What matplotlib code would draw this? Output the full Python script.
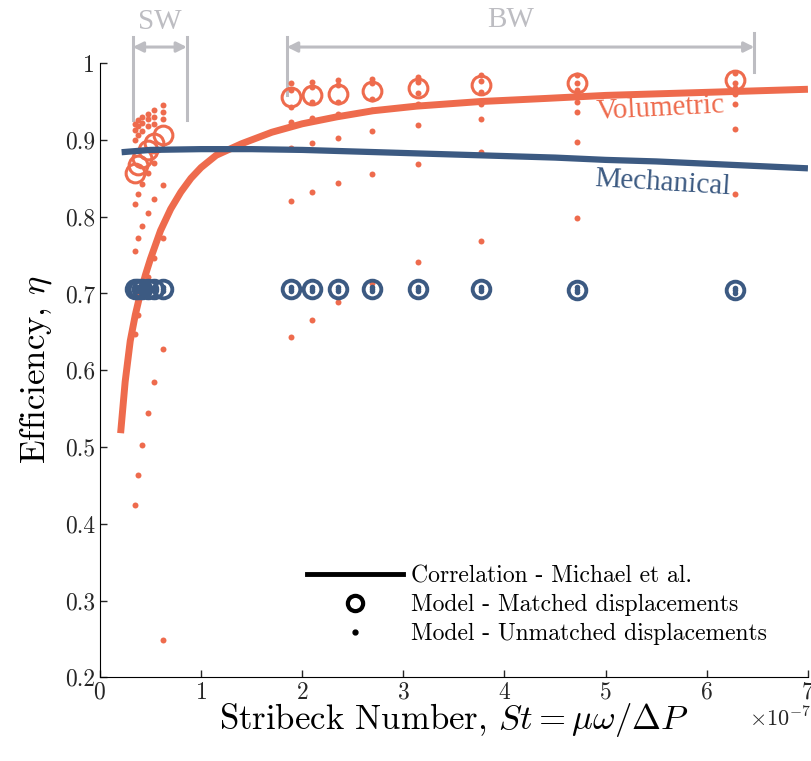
import numpy as np
import matplotlib
matplotlib.use("Agg")
import matplotlib.pyplot as plt
from matplotlib.lines import Line2D

# Stribeck numbers (x 1e-7) for the small (SW) and big (BW) washer cases
st_sw = np.array([0.343, 0.377, 0.419, 0.471, 0.539, 0.628]) * 1e-7
st_bw = np.array([1.885, 2.094, 2.356, 2.693, 3.142, 3.770, 4.712, 6.283]) * 1e-7

# volumetric efficiency, matched displacements
vol_matched_sw = [0.857, 0.867, 0.877, 0.887, 0.896, 0.906]
vol_matched_bw = [0.956, 0.958, 0.960, 0.964, 0.968, 0.971, 0.974, 0.978]

# volumetric efficiency, unmatched displacements (one row per St)
vol_unmatched_sw = [
    [0.424, 0.647, 0.755, 0.816, 0.900, 0.913, 0.921],
    [0.463, 0.672, 0.772, 0.829, 0.906, 0.918, 0.926],
    [0.503, 0.697, 0.788, 0.843, 0.912, 0.922, 0.930],
    [0.544, 0.722, 0.805, 0.857, 0.918, 0.927, 0.934],
    [0.585, 0.746, 0.823, 0.870, 0.921, 0.930, 0.939],
    [0.249, 0.627, 0.772, 0.841, 0.927, 0.937, 0.945],
]
vol_unmatched_bw = [
    [0.643, 0.821, 0.890, 0.923, 0.943, 0.965, 0.974],
    [0.666, 0.832, 0.896, 0.928, 0.950, 0.969, 0.976],
    [0.689, 0.844, 0.903, 0.934, 0.950, 0.971, 0.978],
    [0.713, 0.856, 0.911, 0.939, 0.953, 0.974, 0.980],
    [0.741, 0.869, 0.919, 0.947, 0.961, 0.976, 0.982],
    [0.768, 0.884, 0.927, 0.947, 0.963, 0.977, 0.984],
    [0.798, 0.897, 0.937, 0.950, 0.965, 0.974, 0.984],
    [0.830, 0.914, 0.947, 0.960, 0.968, 0.974, 0.987],
]

# mechanical efficiency
mech_matched_sw = [0.706, 0.706, 0.706, 0.706, 0.706, 0.706]
mech_matched_bw = [0.706, 0.706, 0.706, 0.706, 0.706, 0.706, 0.705, 0.704]
mech_unmatched_sw = [[0.703, 0.706, 0.709]] * 6
mech_unmatched_bw = [
    [0.703, 0.706, 0.709],
    [0.703, 0.706, 0.709],
    [0.703, 0.706, 0.709],
    [0.703, 0.706, 0.709],
    [0.703, 0.706, 0.709],
    [0.703, 0.706, 0.709],
    [0.702, 0.705, 0.708],
    [0.701, 0.704, 0.707],
]

# correlation curves (Michael et al.)
corr_st_vol = np.array([0.205, 0.25, 0.30, 0.35, 0.40, 0.45, 0.50, 0.60, 0.70, 0.80, 0.90, 1.00,
                        1.15, 1.40, 1.70, 2.00, 2.34, 2.70, 3.13, 3.76, 4.40, 5.00, 6.00, 7.00]) * 1e-7
corr_vol = [0.518, 0.585, 0.638, 0.672, 0.700, 0.724, 0.745, 0.782, 0.810, 0.832, 0.850, 0.864,
            0.880, 0.895, 0.910, 0.921, 0.930, 0.938, 0.944, 0.950, 0.954, 0.958, 0.962, 0.966]
corr_st_mech = np.array([0.215, 0.5, 1.0, 1.5, 2.0, 2.5, 3.0, 3.5, 4.0, 4.5, 5.0, 5.5, 6.0, 6.5, 7.0]) * 1e-7
corr_mech = [0.884, 0.887, 0.888, 0.888, 0.887, 0.885, 0.883, 0.881, 0.879, 0.877, 0.874, 0.872,
             0.869, 0.866, 0.863]

narancasta = "#EE6B4D"
plava = "#3C5A82"
siva = "#BDBDC2"

plt.rcParams['font.family'] = 'serif'
plt.rcParams['font.serif'] = ['cmr10']
plt.rcParams['mathtext.fontset'] = 'cm'
plt.rcParams['axes.formatter.use_mathtext'] = True
plt.rcParams['axes.unicode_minus'] = False

fig = plt.figure(figsize=(8.12, 7.61), dpi=100)
ax = fig.add_axes([0.123, 0.110, 0.872, 0.807])

ax.plot(corr_st_vol, corr_vol, color=narancasta, lw=5, solid_capstyle='butt', zorder=2)

# volumetric points
for st, vals in zip(np.concatenate([st_sw, st_bw]), vol_unmatched_sw + vol_unmatched_bw):
    ax.plot([st] * len(vals), vals, 'o', color=narancasta, ms=4.3, mew=0, zorder=3)
ax.plot(st_sw, vol_matched_sw, 'o', mfc='none', mec=narancasta, ms=13.5, mew=2.2, zorder=3)
ax.plot(st_bw, vol_matched_bw, 'o', mfc='none', mec=narancasta, ms=13.5, mew=2.2, zorder=3)

ax.plot(corr_st_mech, corr_mech, color=plava, lw=4.5, solid_capstyle='butt', zorder=4)

# mechanical points
ax.plot(st_sw, mech_matched_sw, 'o', mfc='none', mec=plava, ms=12.7, mew=2.8, zorder=5)
ax.plot(st_bw, mech_matched_bw, 'o', mfc='none', mec=plava, ms=12.7, mew=2.8, zorder=5)
for st, vals in zip(np.concatenate([st_sw, st_bw]), mech_unmatched_sw + mech_unmatched_bw):
    ax.plot([st] * len(vals), vals, 'o', color=plava, ms=4, mew=0, zorder=6)

ax.text(5.54e-7, 0.941, "Volumetric", color=narancasta, fontsize=21, family='Liberation Serif',
        rotation=3, ha='center', va='center')
ax.text(5.56e-7, 0.844, "Mechanical", color=plava, fontsize=21, family='Liberation Serif',
        rotation=-3.5, ha='center', va='center')

# SW / BW ranges above the axes
for x0, y0, y1 in [(0.326e-7, 1.034, 0.926), (0.86e-7, 1.034, 0.926),
                   (1.85e-7, 1.034, 0.958), (6.47e-7, 1.039, 0.988)]:
    ax.plot([x0, x0], [y0, y1], color=siva, lw=2.2, clip_on=False, zorder=1)
for x0, x1 in [(0.326e-7, 0.86e-7), (1.85e-7, 6.47e-7)]:
    ax.annotate("", xy=(x1, 1.021), xytext=(x0, 1.021), annotation_clip=False,
                arrowprops=dict(arrowstyle='<|-|>,head_length=0.6,head_width=0.3',
                                color=siva, lw=2.2, shrinkA=0, shrinkB=0))
ax.text(0.59e-7, 1.053, "SW", color=siva, fontsize=21, family='Liberation Serif',
        ha='center', va='center', clip_on=False)
ax.text(4.06e-7, 1.056, "BW", color=siva, fontsize=21, family='Liberation Serif',
        ha='center', va='center', clip_on=False)

ax.set_xlim(0, 7e-7)
ax.set_ylim(0.2, 1.0)
ax.set_yticks(np.arange(0.2, 1.01, 0.1))
ax.set_yticklabels(['0.2', '0.3', '0.4', '0.5', '0.6', '0.7', '0.8', '0.9', '1'])
ax.spines['top'].set_visible(False)
ax.spines['right'].set_visible(False)
ax.tick_params(direction='in', length=5, width=1, labelsize=17, colors='#262626')
ax.tick_params(axis='x', pad=3)
ax.xaxis.get_offset_text().set_visible(False)
fig.text(0.999, 0.056, r"$\times10^{-7}$", fontsize=16, ha='right', va='center', color='#262626')
ax.set_xlabel(r"Stribeck Number, $St = \mu\omega/\Delta P$", fontsize=25, labelpad=-2)
ax.set_ylabel(r"Efficiency, $\eta$", fontsize=25, labelpad=8)

handles = [Line2D([], [], color='black', lw=3.5),
           Line2D([], [], ls='none', marker='o', mfc='none', mec='black', ms=11, mew=3),
           Line2D([], [], ls='none', marker='o', color='black', ms=3.5)]
labels = ["Correlation - Michael et al.", "Model - Matched displacements",
          "Model - Unmatched displacements"]
ax.legend(handles, labels, loc='upper left', bbox_to_anchor=(0.292, 0.183), frameon=False,
          fontsize=17, handlelength=4.1, handletextpad=0.3, labelspacing=0.3,
          borderpad=0, borderaxespad=0)

plt.savefig("out.png", dpi=100)
